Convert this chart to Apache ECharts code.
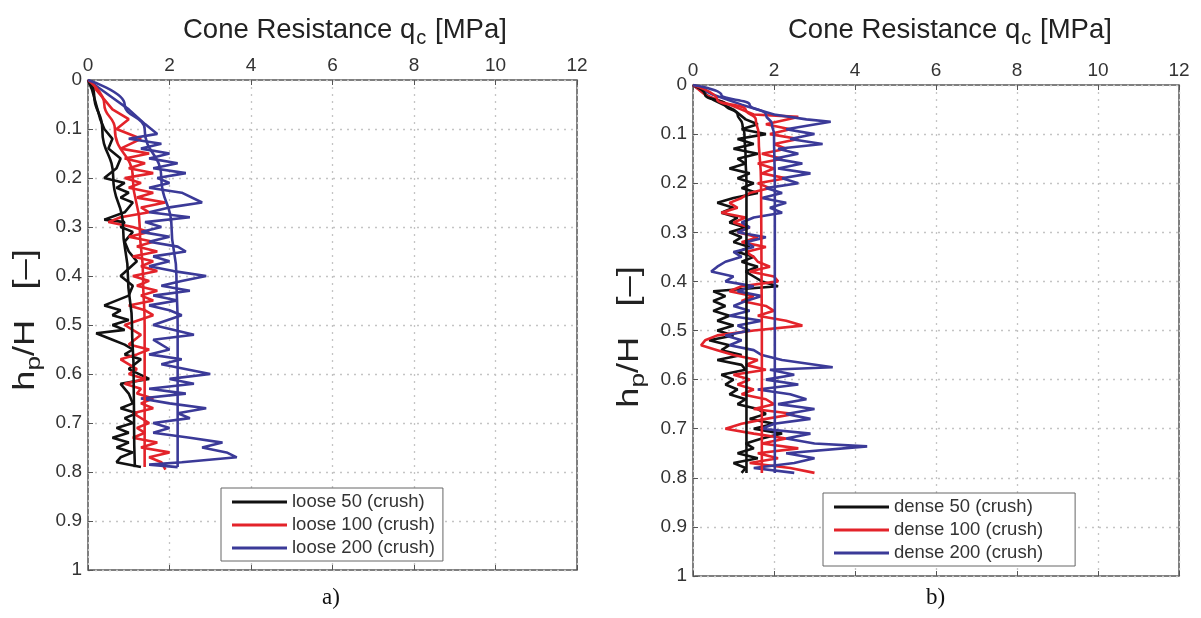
<!DOCTYPE html>
<html>
<head>
<meta charset="utf-8">
<script src="https://cdn.jsdelivr.net/npm/echarts@6/dist/echarts.min.js"></script>
<style>
  html, body { margin: 0; padding: 0; background: #fff; }
  #chart { width: 1201px; height: 618px; }
</style>
</head>
<body>
<div id="chart"></div>
<script>
// [qc (MPa), hp/H] pairs
var loose50 = [[0,0],[0.1,0.02],[0.2,0.05],[0.3,0.08],[0.4,0.1],[0.6,0.12],[0.5,0.14],[0.8,0.16],[0.7,0.18],[0.4,0.2],[0.9,0.21],[0.7,0.22],[1.0,0.23],[0.8,0.24],[1.1,0.25],[0.9,0.27],[0.4,0.285],[0.9,0.29],[0.8,0.3],[1.1,0.31],[0.9,0.33],[1.0,0.35],[1.2,0.37],[0.8,0.4],[1.1,0.42],[1.0,0.44],[0.4,0.46],[0.8,0.47],[0.6,0.48],[1.0,0.49],[0.6,0.5],[0.9,0.51],[0.2,0.517],[0.6,0.53],[0.9,0.54],[1.1,0.55],[0.9,0.56],[1.3,0.57],[1.0,0.59],[1.5,0.61],[0.8,0.62],[1.0,0.64],[1.1,0.66],[0.8,0.67],[1.2,0.68],[0.9,0.69],[1.1,0.7],[0.7,0.71],[1.0,0.72],[0.6,0.73],[1.0,0.74],[0.7,0.75],[1.1,0.76],[0.8,0.77],[0.7,0.78],[1.3,0.79]];
var loose100 = [[0,0],[0.3,0.03],[0.6,0.06],[1.0,0.08],[0.7,0.1],[1.3,0.12],[0.8,0.14],[1.5,0.15],[0.9,0.16],[1.4,0.17],[1.0,0.18],[1.6,0.19],[0.9,0.2],[1.3,0.21],[1.0,0.22],[1.6,0.23],[1.2,0.24],[1.9,0.25],[1.3,0.26],[1.5,0.27],[0.8,0.28],[0.5,0.29],[1.1,0.3],[1.5,0.31],[1.0,0.32],[1.6,0.33],[1.2,0.34],[1.7,0.35],[1.1,0.36],[1.6,0.37],[1.3,0.38],[1.7,0.39],[1.1,0.4],[1.5,0.41],[1.2,0.42],[1.7,0.43],[1.3,0.44],[1.6,0.45],[1.0,0.46],[1.4,0.47],[1.6,0.48],[0.9,0.5],[1.3,0.52],[1.0,0.54],[1.5,0.55],[1.2,0.56],[0.8,0.57],[1.2,0.59],[1.0,0.6],[1.4,0.61],[0.9,0.62],[1.3,0.63],[1.2,0.64],[1.6,0.65],[1.3,0.66],[1.6,0.67],[1.1,0.68],[1.5,0.7],[1.2,0.71],[1.4,0.72],[1.1,0.73],[1.7,0.74],[1.3,0.75],[2.0,0.76],[1.5,0.77],[1.8,0.78],[1.9,0.795]];
var loose200 = [[0,0],[0.5,0.03],[1.0,0.06],[1.4,0.09],[1.7,0.11],[1.0,0.12],[1.8,0.13],[1.3,0.14],[2.0,0.15],[1.5,0.16],[2.2,0.17],[1.6,0.18],[2.4,0.19],[1.7,0.2],[2.0,0.21],[1.5,0.22],[2.3,0.23],[2.8,0.25],[2.0,0.26],[1.5,0.27],[2.5,0.28],[1.4,0.29],[1.8,0.3],[1.3,0.31],[2.0,0.32],[1.5,0.33],[2.2,0.34],[2.4,0.35],[1.6,0.36],[2.0,0.37],[1.5,0.38],[2.1,0.39],[2.9,0.4],[2.3,0.41],[1.8,0.42],[2.5,0.43],[1.6,0.44],[2.2,0.45],[1.5,0.46],[2.0,0.47],[2.3,0.48],[1.6,0.5],[2.6,0.52],[1.6,0.53],[2.0,0.55],[1.5,0.56],[2.3,0.57],[1.8,0.58],[3.0,0.6],[2.0,0.61],[2.6,0.62],[1.5,0.63],[2.4,0.64],[1.3,0.65],[2.0,0.66],[2.9,0.67],[2.2,0.68],[2.5,0.69],[1.6,0.7],[2.0,0.71],[1.6,0.72],[2.5,0.73],[3.3,0.74],[2.8,0.75],[3.4,0.76],[3.65,0.77],[2.3,0.78],[1.5,0.785],[2.2,0.79]];
var loose50Fit = [[0,0],[0.15,0.03],[0.35,0.1],[0.62,0.2],[0.86,0.3],[0.98,0.4],[1.08,0.5],[1.12,0.6],[1.13,0.7],[1.15,0.79]];
var loose100Fit = [[0,0],[0.4,0.05],[0.66,0.1],[1.1,0.2],[1.27,0.3],[1.35,0.4],[1.39,0.5],[1.39,0.6],[1.39,0.7],[1.39,0.79]];
var loose200Fit = [[0,0],[0.9,0.05],[1.39,0.1],[1.8,0.2],[2.05,0.3],[2.17,0.4],[2.2,0.5],[2.2,0.6],[2.2,0.7],[2.2,0.79]];

var dense50 = [[0,0],[0.5,0.03],[1.0,0.05],[1.3,0.07],[1.6,0.08],[1.2,0.09],[1.8,0.1],[1.1,0.11],[1.5,0.12],[1.0,0.13],[1.6,0.14],[1.1,0.15],[1.3,0.16],[0.9,0.17],[1.4,0.18],[1.1,0.19],[1.5,0.2],[1.2,0.21],[1.6,0.22],[1.0,0.23],[0.6,0.24],[1.0,0.25],[0.7,0.26],[1.1,0.27],[0.9,0.28],[1.3,0.29],[0.9,0.3],[1.2,0.31],[1.0,0.32],[1.4,0.33],[1.1,0.34],[1.5,0.35],[1.2,0.36],[1.6,0.37],[1.3,0.38],[1.5,0.39],[1.7,0.4],[2.1,0.41],[0.5,0.42],[0.8,0.43],[0.5,0.44],[0.8,0.45],[0.5,0.46],[0.9,0.47],[0.6,0.48],[1.0,0.49],[0.6,0.5],[1.0,0.51],[0.4,0.52],[0.9,0.53],[0.7,0.54],[1.2,0.55],[0.6,0.56],[1.2,0.57],[1.3,0.58],[0.7,0.59],[1.0,0.6],[0.8,0.61],[1.1,0.62],[0.9,0.63],[1.3,0.64],[1.1,0.65],[1.6,0.66],[1.8,0.67],[1.4,0.68],[2.0,0.69],[1.5,0.7],[2.2,0.71],[1.7,0.72],[1.3,0.73],[1.5,0.74],[1.1,0.75],[1.6,0.76],[1.0,0.77],[1.3,0.78],[1.2,0.79]];
var dense100 = [[0,0],[0.3,0.02],[0.9,0.04],[1.5,0.06],[2.6,0.065],[1.8,0.08],[2.4,0.09],[1.9,0.1],[2.6,0.11],[2.0,0.12],[2.3,0.13],[1.7,0.14],[2.2,0.15],[1.6,0.16],[2.0,0.17],[1.7,0.18],[2.3,0.19],[1.6,0.2],[1.9,0.21],[1.4,0.22],[1.2,0.23],[0.9,0.24],[1.1,0.25],[0.7,0.26],[1.3,0.27],[1.0,0.28],[1.4,0.29],[1.1,0.3],[1.6,0.31],[1.2,0.32],[1.8,0.33],[1.3,0.34],[1.5,0.35],[1.6,0.36],[1.9,0.37],[1.4,0.38],[2.0,0.39],[2.1,0.4],[1.2,0.41],[0.9,0.42],[1.5,0.43],[1.2,0.44],[1.8,0.45],[2.0,0.46],[1.6,0.47],[2.3,0.48],[2.7,0.49],[1.5,0.5],[0.6,0.51],[0.3,0.52],[0.2,0.53],[0.6,0.54],[1.0,0.55],[1.6,0.56],[1.3,0.57],[1.8,0.58],[1.0,0.59],[1.4,0.6],[1.1,0.61],[1.5,0.62],[1.2,0.63],[1.8,0.64],[2.0,0.65],[1.5,0.66],[2.5,0.67],[1.8,0.68],[1.2,0.69],[0.8,0.7],[1.5,0.71],[2.3,0.72],[1.7,0.73],[2.6,0.74],[1.6,0.75],[2.1,0.76],[1.4,0.77],[2.4,0.78],[3.0,0.79]];
var dense200 = [[0,0],[0.5,0.02],[1.2,0.04],[2.0,0.06],[2.8,0.07],[3.4,0.075],[2.3,0.09],[3.0,0.1],[2.4,0.11],[3.2,0.12],[2.1,0.13],[2.6,0.14],[2.0,0.15],[2.7,0.16],[2.1,0.17],[2.9,0.18],[2.2,0.19],[2.6,0.2],[1.8,0.21],[2.2,0.22],[1.7,0.23],[2.3,0.24],[1.9,0.25],[2.2,0.26],[1.5,0.27],[1.2,0.28],[1.4,0.29],[1.1,0.3],[1.8,0.31],[1.3,0.32],[1.5,0.33],[1.0,0.34],[1.2,0.35],[0.8,0.36],[0.6,0.37],[0.45,0.38],[1.0,0.39],[0.8,0.4],[1.5,0.41],[1.1,0.42],[1.7,0.43],[1.3,0.44],[1.0,0.45],[1.4,0.46],[0.9,0.47],[1.7,0.48],[1.1,0.49],[1.4,0.5],[0.8,0.51],[1.2,0.52],[0.9,0.53],[1.5,0.54],[1.7,0.55],[2.2,0.56],[3.45,0.575],[1.9,0.58],[2.5,0.59],[1.8,0.6],[2.6,0.61],[1.6,0.62],[2.4,0.63],[2.8,0.64],[2.1,0.65],[3.0,0.66],[2.3,0.67],[2.9,0.68],[2.0,0.69],[1.7,0.7],[2.9,0.71],[2.3,0.72],[3.0,0.73],[4.3,0.736],[2.3,0.75],[3.0,0.76],[2.5,0.77],[1.5,0.78],[2.5,0.79]];
var dense50Fit = [[0,0],[0.3,0.02],[0.8,0.04],[1.1,0.06],[1.22,0.08],[1.27,0.1],[1.3,0.15],[1.32,0.2],[1.32,0.5],[1.32,0.79]];
var dense100Fit = [[0,0],[0.6,0.03],[1.3,0.05],[1.55,0.07],[1.62,0.1],[1.68,0.2],[1.7,0.5],[1.7,0.79]];
var dense200Fit = [[0,0],[0.7,0.02],[1.4,0.04],[1.8,0.06],[1.95,0.08],[2.0,0.1],[2.02,0.2],[2.02,0.5],[2.02,0.79]];

var looseNames = ['loose 50 (crush)', 'loose 100 (crush)', 'loose 200 (crush)'];
var denseNames = ['dense 50 (crush)', 'dense 100 (crush)', 'dense 200 (crush)'];
var colors = ['#111111', '#e3232a', '#3b3a98'];

var myChart = echarts.init(document.getElementById('chart'));

var font = 'Liberation Sans, Arial, sans-serif';
var grids = [
  { left: 88, top: 80, width: 489, height: 490 },
  { left: 693, top: 85, width: 486, height: 491 }
];

function xAxes(i) {
  return [{
    type: 'value', gridIndex: i, position: 'top', min: 0, max: 12, interval: 2,
    axisLine: { show: false },
    axisTick: { show: true, inside: true, length: 5, lineStyle: { color: '#555' } },
    axisLabel: { fontFamily: font, fontSize: 19, color: '#333', margin: 5 },
    splitLine: { show: true, lineStyle: { color: '#c4c4c4', type: [2, 5], width: 1.3 } }
  }, {
    type: 'value', gridIndex: i, position: 'bottom', min: 0, max: 12, interval: 2,
    axisLine: { show: false },
    axisTick: { show: true, inside: true, length: 5, lineStyle: { color: '#555' } },
    axisLabel: { show: false },
    splitLine: { show: false }
  }];
}

function yAxis(i) {
  return {
    type: 'value', gridIndex: i, inverse: true, min: 0, max: 1, interval: 0.1,
    axisLine: { show: false },
    axisTick: { show: true, inside: true, length: 5, lineStyle: { color: '#555' } },
    axisLabel: {
      fontFamily: font, fontSize: 19, color: '#333', margin: 6,
      formatter: function (v) { return String(+v.toFixed(1)); }
    },
    splitLine: { show: true, lineStyle: { color: '#c4c4c4', type: [2, 5], width: 1.3 } }
  };
}

function lines(names, measured, fits, g) {
  var out = [];
  measured.forEach(function (d, k) {
    out.push({
      name: names[k], type: 'line', xAxisIndex: g * 2, yAxisIndex: g,
      data: d, showSymbol: false, symbol: 'none',
      lineStyle: { color: colors[k], width: 2.6 }, itemStyle: { color: colors[k] },
      z: 2 + k
    });
  });
  fits.forEach(function (d, k) {
    out.push({
      name: names[k] + ' fit', type: 'line', xAxisIndex: g * 2, yAxisIndex: g,
      data: d, showSymbol: false, symbol: 'none', smooth: 0.5, smoothMonotone: 'y',
      lineStyle: { color: colors[k], width: 2.6 }, itemStyle: { color: colors[k] },
      z: 6
    });
  });
  return out;
}

function titleText(x, y) {
  return {
    type: 'text', left: x, top: y,
    style: {
      text: '{t|Cone Resistance q}{s|c}{t| [MPa]}',
      rich: {
        t: { fontFamily: font, fontSize: 27.5, fill: '#222' },
        s: { fontFamily: font, fontSize: 20, fill: '#222', padding: [16, 1, 0, 1] }
      }
    }
  };
}

function yName(x, y) {
  return {
    type: 'text', x: x, y: y, rotation: Math.PI / 2, scaleX: 1.25,
    style: {
      text: '{t|h}{s|p}{t|/H   [\u2013]}',
      align: 'center', verticalAlign: 'middle',
      rich: {
        t: { fontFamily: font, fontSize: 29, fill: '#222' },
        s: { fontFamily: font, fontSize: 21, fill: '#222', padding: [16, 0, 0, 0] }
      }
    }
  };
}

function legend(names, left, top, padRight) {
  return {
    data: names, orient: 'vertical', left: left, top: top,
    icon: 'rect', itemWidth: 55, itemHeight: 3, itemGap: 3,
    padding: [4, padRight, 3, 11],
    backgroundColor: '#fff', borderColor: '#666', borderWidth: 1,
    textStyle: { fontFamily: font, fontSize: 18.5, lineHeight: 20, color: '#333' },
    selectedMode: false
  };
}

var option = {
  backgroundColor: '#ffffff',
  animation: false,
  grid: grids.map(function (g) {
    return Object.assign({ show: true, borderColor: '#555', borderWidth: 1.5, backgroundColor: 'transparent' }, g);
  }),
  xAxis: xAxes(0).concat(xAxes(1)),
  yAxis: [yAxis(0), yAxis(1)],
  legend: [legend(looseNames, 221, 488, 8), legend(denseNames, 823, 493, 32)],
  series: lines(looseNames, [loose50, loose100, loose200], [loose50Fit, loose100Fit, loose200Fit], 0)
    .concat(lines(denseNames, [dense50, dense100, dense200], [dense50Fit, dense100Fit, dense200Fit], 1)),
  graphic: [
    titleText(183, 16),
    titleText(788, 16),
    yName(26, 320),
    yName(630, 337),
    { type: 'text', left: 322, top: 586, style: { text: 'a)', fontFamily: 'Liberation Serif, Times New Roman, serif', fontSize: 23, fill: '#111' } },
    { type: 'text', left: 926, top: 586, style: { text: 'b)', fontFamily: 'Liberation Serif, Times New Roman, serif', fontSize: 23, fill: '#111' } }
  ]
};

myChart.setOption(option);
window.addEventListener('resize', function () {
  myChart.resize();
});
</script>
</body>
</html>
